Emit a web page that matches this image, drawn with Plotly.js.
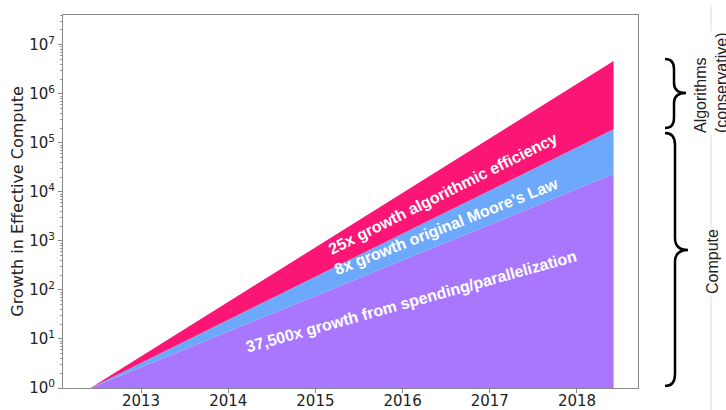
<!DOCTYPE html>
<html>
<head>
<meta charset="utf-8">
<script src="https://cdn.plot.ly/plotly-3.0.1.min.js"></script>
<style>html,body{margin:0;padding:0;background:#fff;}#chart{width:726px;height:410px;}</style>
</head>
<body>
<div id="chart"></div>
<script>
// ---- data ----
const years = [2012.42, 2018.42];
const baseline = [1, 1];
const spendingTop = [1, 23100];      // 37,500x growth from spending/parallelization
const mooreTop = [1, 190000];        // + 8x original Moore's Law
const algoTop = [1, 4660000];        // + 25x algorithmic efficiency
const yTickVals = [1, 10, 100, 1000, 10000, 100000, 1000000, 10000000];
const yTickText = ['10<sup>0</sup>','10<sup>1</sup>','10<sup>2</sup>','10<sup>3</sup>','10<sup>4</sup>','10<sup>5</sup>','10<sup>6</sup>','10<sup>7</sup>'];
const xTickVals = [2013, 2014, 2015, 2016, 2017, 2018];
const labels = ['37,500x growth from spending/parallelization', '8x growth original Moore\u2019s Law', '25x growth algorithmic efficiency'];
const colors = {purple: '#A877FD', blue: '#6DA9FB', pink: '#FB1574'};

// ---- geometry helpers (plot area in pixels) ----
const L = 63, R = 638, T = 15, B = 388;
const px = v => (v - L) / (R - L);
const py = v => (B - v) / (B - T);

function bracePath(xEnd, xBody, xTip, yTop, yTip, yBot, r) {
  const P = (x, y) => px(x).toFixed(5) + ',' + py(y).toFixed(5);
  return 'M' + P(xEnd, yTop) +
    ' Q' + P(xBody, yTop) + ' ' + P(xBody, yTop + r) +
    ' L' + P(xBody, yTip - r) +
    ' Q' + P(xBody, yTip) + ' ' + P(xTip, yTip) +
    ' Q' + P(xBody, yTip) + ' ' + P(xBody, yTip + r) +
    ' L' + P(xBody, yBot - r) +
    ' Q' + P(xBody, yBot) + ' ' + P(xEnd, yBot);
}

const traces = [
  {x: years, y: baseline, mode: 'lines', line: {width: 0}, hoverinfo: 'skip', showlegend: false},
  {x: years, y: spendingTop, mode: 'lines', line: {width: 0}, fill: 'tonexty', fillcolor: colors.purple, showlegend: false},
  {x: years, y: mooreTop, mode: 'lines', line: {width: 0}, fill: 'tonexty', fillcolor: colors.blue, showlegend: false},
  {x: years, y: algoTop, mode: 'lines', line: {width: 0}, fill: 'tonexty', fillcolor: colors.pink, showlegend: false}
];

const tickFont = {family: 'DejaVu Sans', size: 15, color: '#222'};
const annFont = {family: 'Liberation Sans', size: 16, color: '#ffffff', weight: 'bold'};

const layout = {
  width: 726, height: 410,
  margin: {l: L, r: 726 - R, t: T, b: 410 - B, pad: 0},
  paper_bgcolor: '#fff', plot_bgcolor: '#fff',
  showlegend: false,
  xaxis: {
    range: [2012.105, 2018.70], tickmode: 'array', tickvals: xTickVals, ticktext: xTickVals.map(String),
    ticks: 'outside', ticklen: 4, tickcolor: '#888', showgrid: false, zeroline: false, ticklabelstandoff: -5,
    showline: true, mirror: true, linecolor: '#888', linewidth: 1, tickfont: tickFont
  },
  yaxis: {
    type: 'log', range: [0, 7.606], tickmode: 'array', tickvals: yTickVals, ticktext: yTickText,
    ticks: 'outside', ticklen: 4, tickcolor: '#888', showgrid: false, zeroline: false,
    showline: true, mirror: true, linecolor: '#888', linewidth: 1, tickfont: tickFont,
    minor: {ticks: 'outside', ticklen: 2, tickcolor: '#999', dtick: 'D1', showgrid: false},
    title: {text: 'Growth in Effective Compute', font: {family: 'DejaVu Sans', size: 16, color: '#222'}, standoff: 1}
  },
  annotations: [
    {xref: 'paper', yref: 'paper', x: px(411), y: py(301), text: labels[0], showarrow: false, textangle: -15.5, font: annFont, xanchor: 'center', yanchor: 'middle'},
    {xref: 'paper', yref: 'paper', x: px(446), y: py(227), text: labels[1], showarrow: false, textangle: -21.5, font: annFont, xanchor: 'center', yanchor: 'middle'},
    {xref: 'paper', yref: 'paper', x: px(443), y: py(193), text: labels[2], showarrow: false, textangle: -26.5, font: annFont, xanchor: 'center', yanchor: 'middle'},
    {xref: 'paper', yref: 'paper', x: px(711), y: py(83), text: 'Algorithms<br>(conservative)', showarrow: false, textangle: -90, align: 'left', bgcolor: '#fff',
      font: {family: 'Liberation Sans', size: 16, color: '#222'}, xanchor: 'center', yanchor: 'middle'},
    {xref: 'paper', yref: 'paper', x: px(712), y: py(262), text: 'Compute', showarrow: false, textangle: -90, bgcolor: '#fff',
      font: {family: 'Liberation Sans', size: 16, color: '#222'}, xanchor: 'center', yanchor: 'middle'}
  ],
  shapes: [
    {type: 'line', xref: 'paper', yref: 'paper', x0: px(711), x1: px(711), y0: py(5), y1: py(410), line: {color: '#ddd', width: 1}, layer: 'below'},
    {type: 'path', xref: 'paper', yref: 'paper', path: bracePath(665, 674, 686, 59, 93, 128, 10), line: {color: '#000', width: 2.5}},
    {type: 'path', xref: 'paper', yref: 'paper', path: bracePath(665, 675, 688, 133, 250, 386, 12), line: {color: '#000', width: 2.5}}
  ]
};

Plotly.newPlot('chart', traces, layout, {staticPlot: true, displayModeBar: false});
</script>
</body>
</html>
